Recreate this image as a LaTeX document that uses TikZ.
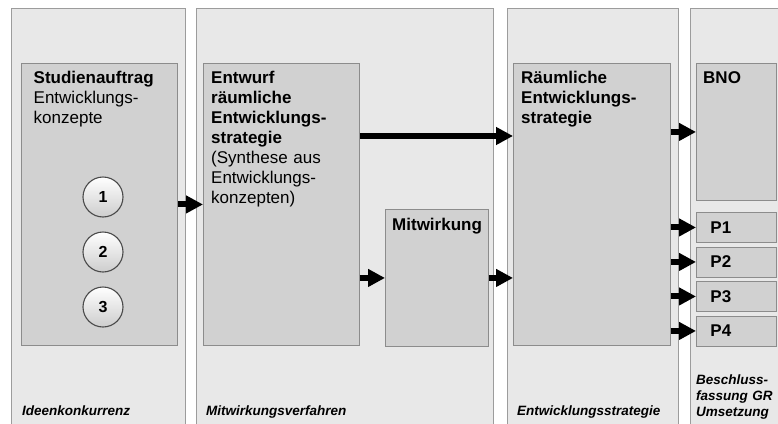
\documentclass[tikz,border=0pt]{standalone}
\usepackage{fontspec}
\setmainfont{Liberation Sans}
\usetikzlibrary{arrows.meta, positioning, calc, shadows}
\definecolor{panelGray}{HTML}{E8E8E8}
\definecolor{panelLine}{HTML}{9C9C9C}
\definecolor{boxGray}{HTML}{D1D1D1}
\definecolor{boxLine}{HTML}{8C8C8C}
\definecolor{circFill}{HTML}{F1F1F1}
\definecolor{circLine}{HTML}{4A4A4A}
\newcommand{\tstrut}{\rule{0pt}{16pt}}
\newcommand{\pstrut}{\rule{0pt}{13pt}}
\tikzset{
  arrowK/.style={-{Triangle[length=17pt, width=17pt]}, line width=6pt, black},
  panelBox/.style={rectangle, draw=panelLine, fill=panelGray, line width=0.9pt,
                   anchor=north west, inner sep=0pt},
  stageBox/.style={rectangle, draw=boxLine, fill=boxGray, line width=0.9pt,
                   anchor=north west, inner sep=0pt,
                   drop shadow={shadow xshift=1pt, shadow yshift=-1pt, opacity=0.25}},
  boxText/.style={anchor=north west, align=left, inner sep=0pt,
                  font=\fontsize{17}{20}\selectfont},
  phaseText/.style={anchor=base west, align=left, inner sep=0pt,
                    font=\fontsize{13.5}{16}\selectfont\bfseries\itshape},
  numCircle/.style={circle, draw=circLine, top color=white, bottom color=circFill!85!black,
                    line width=1.1pt, minimum size=40pt, inner sep=0pt,
                    font=\fontsize{16}{18}\selectfont\bfseries},
}
\begin{document}
\begin{tikzpicture}[x=1pt, y=-1pt]
  \clip (0,0) rectangle (778,423);
  % Phasen
  \node[panelBox, minimum width=174pt, minimum height=420pt] (panIdee) at (11,8) {};
  \node[panelBox, minimum width=297pt, minimum height=420pt] (panMitw) at (196,8) {};
  \node[panelBox, minimum width=171pt, minimum height=420pt] (panStrat) at (507,8) {};
  \node[panelBox, minimum width=100pt, minimum height=420pt] (panBeschl) at (690,8) {};
  % Bausteine
  \node[stageBox, minimum width=156pt, minimum height=282pt] (stud) at (21,63) {};
  \node[boxText, text width=140pt] (studText) at ($(stud.north west)+(12.5,4)$)
    {\tstrut\textbf{Studienauftrag}\\Entwicklungs-\\konzepte};
  \node[stageBox, minimum width=156pt, minimum height=282pt] (entw) at (203,63) {};
  \node[boxText, text width=145pt] (entwText) at ($(entw.north west)+(8,4)$)
    {\tstrut\textbf{Entwurf\\räumliche\\Entwicklungs-\\strategie}\\(Synthese aus\\Entwicklungs-\\konzepten)};
  \node[stageBox, minimum width=103pt, minimum height=137pt] (mitw) at (385,209) {};
  \node[boxText, text width=95pt] (mitwText) at ($(mitw.north west)+(7,5)$)
    {\tstrut\textbf{Mitwirkung}};
  \node[stageBox, minimum width=157pt, minimum height=282pt] (raeum) at (513,63) {};
  \node[boxText, text width=145pt] (raeumText) at ($(raeum.north west)+(8,4)$)
    {\tstrut\textbf{Räumliche\\Entwicklungs-\\strategie}};
  \node[stageBox, minimum width=80pt, minimum height=137pt] (bno) at (696,63) {};
  \node[boxText, text width=70pt] (bnoText) at ($(bno.north west)+(7,4)$)
    {\tstrut\textbf{BNO}};
  % Konzepte
  \foreach \n/\y in {1/197, 2/252, 3/307}
    \node[numCircle] (c\n) at (103,\y) {\n};
  % Pfeile
  \draw[arrowK] (stud.east) -- (entw.west);
  \draw[arrowK] (entw.east |- 0,136) -- (raeum.west |- 0,136);
  \draw[arrowK] (entw.east |- mitw.west) -- (mitw.west);
  \draw[arrowK] (mitw.east) -- (raeum.west |- mitw.east);
  \draw[arrowK] (raeum.east |- bno.west) -- (bno.west);
  \foreach \i/\y in {1/212, 2/246.5, 3/281, 4/315.5} {
    \node[stageBox, minimum width=80pt, minimum height=30pt, text width=52pt,
          inner xsep=14pt, align=left, font=\fontsize{17}{20}\selectfont\bfseries]
      (p\i) at (696,\y) {P\i};
    \draw[arrowK] (raeum.east |- p\i.west) -- (p\i.west);
  }
  % Phasenbezeichnungen
  \node[phaseText] (lblIdee) at (22,415.5) {Ideenkonkurrenz};
  \node[phaseText] (lblMitw) at (206,415.5) {Mitwirkungsverfahren};
  \node[phaseText] (lblStrat) at (517,415.5) {Entwicklungsstrategie};
  \node[phaseText, anchor=north west, text width=85pt] (lblBeschl) at (696,371)
    {\pstrut Beschluss-\\fassung GR\\Umsetzung};
\end{tikzpicture}
\end{document}
